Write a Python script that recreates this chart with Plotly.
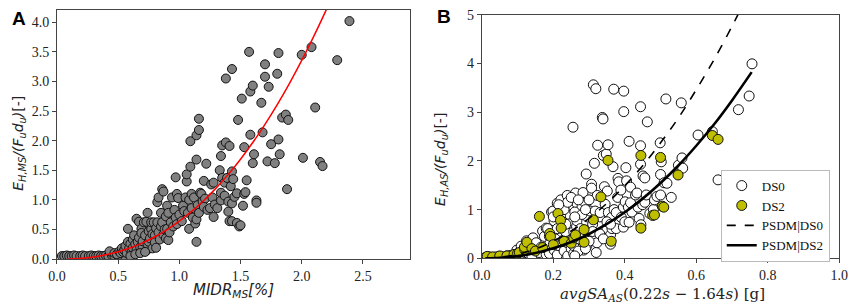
import plotly.graph_objects as go

# ---------------- Panel A data ----------------
a_points = [
    (0.04,0.05),(0.06,0.05),(0.08,0.06),(0.10,0.05),(0.12,0.05),(0.14,0.06),(0.16,0.05),(0.19,0.05),
    (0.21,0.06),(0.23,0.05),(0.26,0.05),(0.28,0.06),(0.30,0.05),(0.32,0.05),(0.34,0.06),(0.36,0.05),
    (0.38,0.05),(0.40,0.06),(0.42,0.05),(0.45,0.06),(0.47,0.05),(0.50,0.05),(0.52,0.06),(0.55,0.06),
    (0.43,0.13),(0.47,0.10),(0.49,0.08),(0.51,0.13),(0.52,0.10),(0.53,0.18),(0.54,0.12),(0.55,0.15),
    (0.56,0.22),(0.57,0.10),(0.58,0.29),(0.58,0.51),(0.59,0.18),(0.60,0.26),(0.61,0.12),(0.62,0.19),
    (0.62,0.33),(0.63,0.40),(0.64,0.25),(0.65,0.68),(0.65,0.15),(0.66,0.29),(0.67,0.63),(0.67,0.36),
    (0.68,0.20),(0.69,0.51),(0.69,0.44),(0.70,0.19),(0.70,0.30),(0.71,0.62),(0.72,0.40),(0.73,0.63),
    (0.73,0.14),(0.74,0.78),(0.74,0.25),(0.75,0.29),(0.75,0.47),(0.76,0.35),(0.77,0.51),(0.77,0.62),
    (0.78,0.18),(0.78,0.42),(0.79,0.62),(0.80,0.40),(0.80,0.28),(0.81,0.19),(0.81,0.52),(0.82,0.96),
    (0.82,0.62),(0.83,0.45),(0.83,1.04),(0.84,0.33),(0.85,0.78),(0.85,0.55),(0.86,1.18),(0.86,0.62),
    (0.87,0.41),(0.87,1.14),(0.88,0.50),(0.89,0.35),(0.89,0.72),(0.90,0.51),(0.90,0.90),(0.91,0.32),
    (0.91,0.78),(0.92,0.45),(0.93,0.62),(0.94,1.04),(0.95,0.55),(0.96,0.83),(0.97,1.38),(0.97,0.70),
    (0.98,1.10),(0.98,0.59),(0.99,1.03),(1.00,0.75),(1.02,0.64),(1.03,0.90),(1.04,0.81),(1.05,1.04),
    (1.06,1.31),(1.06,1.43),(1.07,0.78),(1.08,0.51),(1.08,1.00),(1.09,1.56),(1.09,1.99),(1.10,1.10),
    (1.10,0.86),(1.11,0.70),(1.12,1.04),(1.13,0.60),(1.14,0.67),(1.14,0.29),(1.14,1.68),(1.14,2.09),
    (1.15,0.91),(1.16,2.18),(1.16,2.37),(1.16,0.78),(1.17,1.12),(1.18,1.10),(1.19,0.97),(1.20,1.32),
    (1.21,1.02),(1.20,0.88),(1.22,1.61),(1.23,0.83),(1.25,0.86),(1.26,1.26),(1.27,1.04),(1.28,0.71),
    (1.28,1.29),(1.29,0.92),(1.31,0.86),(1.33,1.50),(1.34,0.99),(1.34,1.12),(1.34,1.74),(1.35,1.37),
    (1.35,1.92),(1.37,1.29),(1.37,1.07),(1.38,1.97),(1.38,3.05),(1.39,1.37),(1.40,0.97),(1.40,0.80),
    (1.41,0.64),(1.41,1.91),(1.42,1.23),(1.43,0.94),(1.43,0.64),(1.43,1.48),(1.43,3.21),(1.44,1.35),
    (1.45,1.05),(1.47,0.61),(1.47,1.11),(1.48,2.35),(1.49,0.55),(1.50,0.57),(1.51,2.71),(1.52,0.90),
    (1.53,1.10),(1.53,1.89),(1.54,1.13),(1.55,1.33),(1.57,3.50),(1.58,2.83),(1.58,2.10),(1.60,2.93),
    (1.60,1.62),(1.61,1.77),(1.63,0.99),(1.63,0.95),(1.67,2.64),(1.68,2.14),(1.70,3.29),(1.70,3.08),
    (1.72,1.65),(1.73,2.91),(1.75,1.94),(1.78,1.62),(1.80,3.13),(1.81,3.48),(1.81,2.02),(1.82,1.77),
    (1.84,2.39),(1.87,2.44),(1.88,1.18),(1.89,2.35),(2.00,3.45),(2.01,1.71),(2.08,3.58),(2.11,2.56),
    (2.15,1.64),(2.17,1.57),(2.29,3.36),(2.39,4.02),
    (0.60,0.05),(0.64,0.08),(0.68,0.10),(0.72,0.12),
]
a_midr = [p[0] for p in a_points]
a_eh = [p[1] for p in a_points]

a_fit_x = [0.09,0.2,0.3,0.4,0.5,0.6,0.7,0.8,0.9,1.0,1.1,1.2,1.3,1.4,1.5,1.6,1.7,1.8,1.9,2.0,2.1,2.2,2.25]
a_fit_y = [0.002,0.014,0.036,0.072,0.122,0.189,0.273,0.376,0.498,0.64,0.804,0.99,1.198,1.43,1.687,
           1.968,2.275,2.608,2.968,3.355,3.77,4.21,4.45]

# ---------------- Panel B data ----------------
b_ds0 = [
    (0.01,0.02),(0.02,0.03),(0.03,0.02),(0.04,0.03),(0.05,0.04),(0.06,0.03),(0.07,0.05),(0.08,0.06),
    (0.09,0.05),(0.10,0.08),(0.11,0.07),(0.12,0.12),
    (0.098,0.17),(0.11,0.25),(0.125,0.17),(0.125,0.36),(0.13,0.10),(0.134,0.29),(0.14,0.05),(0.143,0.42),
    (0.15,0.22),(0.152,0.32),(0.16,0.12),(0.166,0.23),(0.17,0.56),(0.175,0.45),(0.18,0.62),(0.18,0.08),
    (0.184,0.61),(0.189,0.10),(0.189,0.45),(0.19,0.30),(0.195,0.95),(0.199,0.97),(0.202,0.17),(0.202,0.77),
    (0.205,0.40),(0.211,0.07),(0.211,0.61),(0.211,1.13),(0.215,0.30),(0.216,0.26),(0.221,1.04),(0.221,1.20),
    (0.225,0.77),(0.229,0.38),(0.23,0.15),(0.234,0.55),(0.239,0.32),(0.239,1.29),(0.24,0.05),(0.245,0.90),
    (0.248,0.71),(0.248,1.10),(0.25,0.20),(0.255,2.69),(0.257,0.10),(0.257,0.26),(0.257,0.55),(0.257,1.03),
    (0.262,1.34),(0.265,0.65),(0.266,0.77),(0.266,1.13),(0.27,0.40),(0.276,0.61),(0.28,1.05),(0.283,1.35),
    (0.285,0.17),(0.285,0.45),(0.29,1.13),(0.292,1.73),(0.294,0.26),(0.295,0.85),(0.299,0.58),(0.303,0.97),
    (0.307,1.52),(0.307,1.44),(0.31,0.70),(0.312,3.56),(0.313,0.45),(0.315,1.95),(0.317,0.97),(0.319,3.48),
    (0.32,0.12),(0.322,0.32),(0.323,1.29),(0.324,2.32),(0.33,0.85),(0.331,0.94),(0.337,2.89),(0.339,2.86),
    (0.34,2.11),(0.343,1.47),(0.345,1.11),(0.348,2.14),(0.35,0.60),(0.351,1.38),(0.353,2.33),(0.354,0.94),
    (0.36,0.48),(0.36,0.29),(0.363,0.84),(0.364,0.61),(0.367,1.88),(0.369,3.47),(0.37,1.00),(0.376,0.94),
    (0.376,0.61),(0.38,1.25),(0.381,1.64),(0.383,1.57),(0.389,1.40),(0.39,0.84),(0.396,0.64),(0.396,1.05),
    (0.397,3.43),(0.397,3.01),(0.40,0.75),(0.401,1.16),(0.403,1.86),(0.405,1.59),(0.41,1.05),(0.412,0.74),
    (0.412,2.40),(0.416,1.46),(0.416,1.14),(0.42,0.95),(0.43,1.30),(0.434,1.34),(0.437,1.05),(0.44,0.82),
    (0.444,3.11),(0.444,2.31),(0.444,1.93),(0.445,0.69),(0.45,1.10),(0.451,1.69),(0.456,1.65),(0.456,1.15),
    (0.46,1.30),(0.463,2.80),(0.47,0.92),(0.48,1.00),(0.483,1.20),(0.49,1.27),(0.499,2.37),(0.50,1.30),
    (0.50,1.72),(0.502,1.98),(0.51,1.55),(0.515,3.27),(0.518,1.54),(0.53,1.25),(0.55,1.91),(0.558,3.19),
    (0.56,2.06),(0.562,1.85),(0.605,2.53),(0.645,2.60),(0.661,1.61),(0.718,3.05),(0.748,3.33),(0.756,3.99),
    (0.22,0.88),(0.23,1.00),(0.24,1.15),(0.25,1.25),(0.26,0.95),(0.27,1.20),(0.28,0.90),(0.29,1.00),
    (0.30,1.20),(0.20,0.85),(0.215,1.10),(0.235,0.70),(0.26,0.85),(0.30,0.35),(0.31,0.55),(0.33,0.50),
    (0.34,0.40),(0.35,0.75),(0.36,0.70),(0.27,0.15),(0.26,0.05),(0.29,0.20),
]
b_ds0_sa = [p[0] for p in b_ds0]
b_ds0_eh = [p[1] for p in b_ds0]

b_ds2 = [
    (0.015,0.04),(0.03,0.03),(0.05,0.05),(0.07,0.05),(0.09,0.08),(0.10,0.10),(0.105,0.12),(0.12,0.18),
    (0.119,0.23),(0.126,0.33),(0.14,0.20),(0.15,0.15),(0.17,0.22),(0.161,0.86),(0.19,0.51),(0.192,0.45),
    (0.213,0.92),(0.22,0.78),(0.222,0.62),(0.20,0.28),(0.23,0.35),(0.25,0.31),(0.257,0.42),(0.262,0.48),
    (0.286,0.59),(0.286,0.33),(0.312,0.79),(0.333,1.26),(0.353,2.01),(0.362,0.35),(0.445,2.11),(0.445,0.62),
    (0.478,0.88),(0.483,0.89),(0.500,2.07),(0.505,1.07),(0.509,1.05),(0.549,1.71),(0.645,2.52),(0.661,2.44),
]
b_ds2_sa = [p[0] for p in b_ds2]
b_ds2_eh = [p[1] for p in b_ds2]

b_psdm0_x = [0.01,0.05,0.1,0.15,0.2,0.25,0.3,0.35,0.4,0.45,0.5,0.55,0.6,0.65,0.7,0.72]
b_psdm0_y = [0.001,0.02,0.083,0.19,0.352,0.56,0.82,1.13,1.49,1.90,2.37,2.88,3.46,4.08,4.76,5.05]
b_psdm2_x = [0.01,0.05,0.1,0.15,0.2,0.25,0.3,0.35,0.4,0.45,0.5,0.55,0.6,0.65,0.7,0.755]
b_psdm2_y = [0.0003,0.01,0.045,0.109,0.206,0.336,0.50,0.705,0.945,1.225,1.546,1.905,2.31,2.75,3.24,3.82]

a_xticks = [0.0, 0.5, 1.0, 1.5, 2.0, 2.5]
a_yticks = [0.0, 0.5, 1.0, 1.5, 2.0, 2.5, 3.0, 3.5, 4.0]
b_xticks = [0.0, 0.2, 0.4, 0.6, 0.8, 1.0]
b_yticks = [0, 1, 2, 3, 4, 5]

W, H = 858, 306
TICKFONT = dict(family="Liberation Serif", size=14, color="#222")
SPINE = "#444"

fig = go.Figure()
mk_a = dict(size=9, color="#808080", line=dict(color="#111", width=1))
fig.add_trace(go.Scatter(x=a_midr, y=a_eh, mode="markers", marker=mk_a, showlegend=False,
                         xaxis="x", yaxis="y"))
fig.add_trace(go.Scatter(x=a_fit_x, y=a_fit_y, mode="lines", line=dict(color="#ff0000", width=1.5, shape="spline"),
                         showlegend=False, xaxis="x", yaxis="y"))

fig.add_trace(go.Scatter(x=b_ds0_sa, y=b_ds0_eh, mode="markers", name="DS0",
                         marker=dict(size=10, color="white", line=dict(color="#111", width=1)),
                         xaxis="x2", yaxis="y2"))
fig.add_trace(go.Scatter(x=b_ds2_sa, y=b_ds2_eh, mode="markers", name="DS2",
                         marker=dict(size=10, color="#bfbf00", line=dict(color="#111", width=1)),
                         xaxis="x2", yaxis="y2"))
fig.add_trace(go.Scatter(x=b_psdm0_x, y=b_psdm0_y, mode="lines", name="PSDM|DS0",
                         line=dict(color="black", width=1.6, dash="dash", shape="spline"),
                         xaxis="x2", yaxis="y2"))
fig.add_trace(go.Scatter(x=b_psdm2_x, y=b_psdm2_y, mode="lines", name="PSDM|DS2",
                         line=dict(color="black", width=2.6, shape="spline"),
                         xaxis="x2", yaxis="y2"))

def px2fx(px):
    return px / W

def py2fy(py):
    return (H - py) / H

axis_common = dict(showgrid=False, zeroline=False, showline=True, linecolor=SPINE, linewidth=1,
                   mirror=True, ticks="outside", ticklen=4, tickcolor=SPINE, tickfont=TICKFONT)

fig.update_layout(
    width=W, height=H, margin=dict(l=0, r=0, t=0, b=0),
    paper_bgcolor="white", plot_bgcolor="white",
    xaxis=dict(domain=[px2fx(49), px2fx(410)], range=[0, 2.888], tickvals=a_xticks,
               tickformat=".1f", anchor="y", **axis_common),
    yaxis=dict(domain=[py2fy(265), py2fy(3)], range=[0, 4.21], tickvals=a_yticks,
               tickformat=".1f", anchor="x", **axis_common),
    xaxis2=dict(domain=[px2fx(483), px2fx(848)], range=[0, 1.0], tickvals=b_xticks,
                tickformat=".1f", anchor="y2", **axis_common),
    yaxis2=dict(domain=[py2fy(264.3), py2fy(8)], range=[0, 5], tickvals=b_yticks,
                anchor="x2", **axis_common),
    legend=dict(x=px2fx(727), y=py2fy(171), xanchor="left", yanchor="top",
                bgcolor="white", bordercolor="#bbbbbb", borderwidth=1,
                font=dict(family="Liberation Serif", size=13, color="#111"),
                tracegroupgap=0, entrywidth=72),
    showlegend=True,
)

sans_it = dict(family="DejaVu Sans", size=14, color="#222")
annos = [
    dict(text="<b>A</b>", x=px2fx(10), y=py2fy(12), font=dict(family="Liberation Sans", size=19, color="black")),
    dict(text="<b>B</b>", x=px2fx(444), y=py2fy(10), font=dict(family="Liberation Sans", size=19, color="black")),
    dict(text="<i>MIDR</i><sub><i>MS</i></sub><i>[%]</i>", x=px2fx(229.5), y=py2fy(298),
         font=dict(family="DejaVu Sans", size=15, color="#222")),
    dict(text="<i>E</i><sub><i>H,MS</i></sub><i>/(F</i><sub><i>u</i></sub><i>d</i><sub><i>u</i></sub><i>)</i>[-]",
         x=px2fx(10), y=py2fy(143), textangle=-90, font=sans_it),
    dict(text="<i>avgSA</i><sub><i>AS</i></sub>(0.22<i>s</i> − 1.64<i>s</i>) [g]", x=px2fx(668), y=py2fy(302),
         font=dict(family="DejaVu Serif", size=15, color="#222")),
    dict(text="<i>E</i><sub><i>H,AS</i></sub><i>/(F</i><sub><i>u</i></sub><i>d</i><sub><i>u</i></sub><i>)</i>[-]",
         x=px2fx(441), y=py2fy(160), textangle=-90, font=sans_it),
]
for a in annos:
    fig.add_annotation(xref="paper", yref="paper", showarrow=False, xanchor="center", yanchor="middle", **a)

fig.write_html("out.html", config={"displayModeBar": False},
               post_script="document.body.style.margin='0';document.body.style.overflow='hidden';")
